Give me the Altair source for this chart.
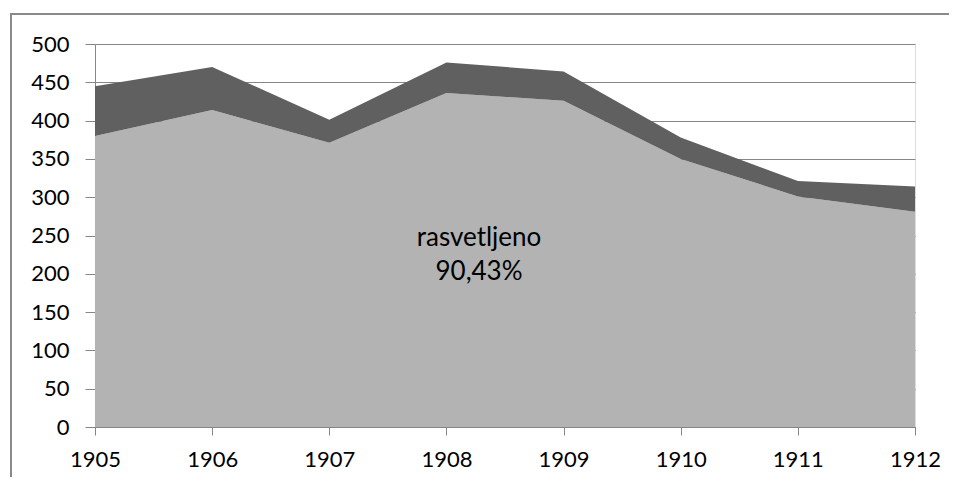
import altair as alt
import pandas as pd

years = [1905, 1906, 1907, 1908, 1909, 1910, 1911, 1912]
rasvetljeno = [380, 414, 371, 436, 426, 350, 301, 281]
ostalo = [65, 56, 30, 40, 38, 28, 20, 33]
series_names = ["rasvetljeno", "ostalo"]
series_colors = ["#b3b3b3", "#606060"]
y_ticks = [0, 50, 100, 150, 200, 250, 300, 350, 400, 450, 500]

rows = []
for i, yr in enumerate(years):
    rows.append({"godina": yr, "serija": series_names[0], "vrednost": rasvetljeno[i], "red": 0})
    rows.append({"godina": yr, "serija": series_names[1], "vrednost": ostalo[i], "red": 1})
df = pd.DataFrame(rows)

FONT = "Lato"
GRID = "#868686"

area = alt.Chart(df).mark_area(opacity=1, interpolate="linear").encode(
    x=alt.X("godina:Q",
            scale=alt.Scale(domain=[1905, 1912], nice=False, zero=False),
            axis=alt.Axis(values=years, format="d", title=None, grid=False,
                          tickSize=8, tickColor=GRID, domainColor=GRID,
                          labelFontSize=22, labelFont=FONT, labelColor="#000000",
                          labelPadding=14, labelFlush=False)),
    y=alt.Y("vrednost:Q", stack="zero",
            scale=alt.Scale(domain=[0, 500], nice=False),
            axis=alt.Axis(values=y_ticks, title=None, grid=True, gridColor=GRID,
                          gridWidth=1, tickSize=10, tickColor=GRID, domainColor=GRID,
                          labelFontSize=22, labelFont=FONT, labelColor="#000000",
                          labelPadding=16)),
    color=alt.Color("serija:N", scale=alt.Scale(domain=series_names, range=series_colors),
                    legend=None),
    order=alt.Order("red:Q"),
)

label = alt.Chart(pd.DataFrame({"t": [["rasvetljeno", "90,43%"]]})).mark_text(
    font=FONT, fontSize=26, color="#000000", align="center", baseline="middle",
    lineHeight=34,
).encode(text="t", x=alt.value(384), y=alt.value(194))

border_top = alt.Chart(pd.DataFrame({"a": [0]})).mark_rule(color="#8a8a8a", strokeWidth=2).encode(
    x=alt.value(-84), x2=alt.value(900), y=alt.value(-30))
border_left = alt.Chart(pd.DataFrame({"a": [0]})).mark_rule(color="#8a8a8a", strokeWidth=2).encode(
    x=alt.value(-84), y=alt.value(-31), y2=alt.value(480))

chart = alt.layer(area, label, border_top, border_left).properties(
    width=820, height=383,
    padding={"left": 87, "top": 36, "right": 34, "bottom": 50},
    autosize=alt.AutoSizeParams(type="none"),
).configure_view(stroke=None).configure(background="white")

chart.save("out.html", embed_options={"renderer": "svg", "actions": False})
